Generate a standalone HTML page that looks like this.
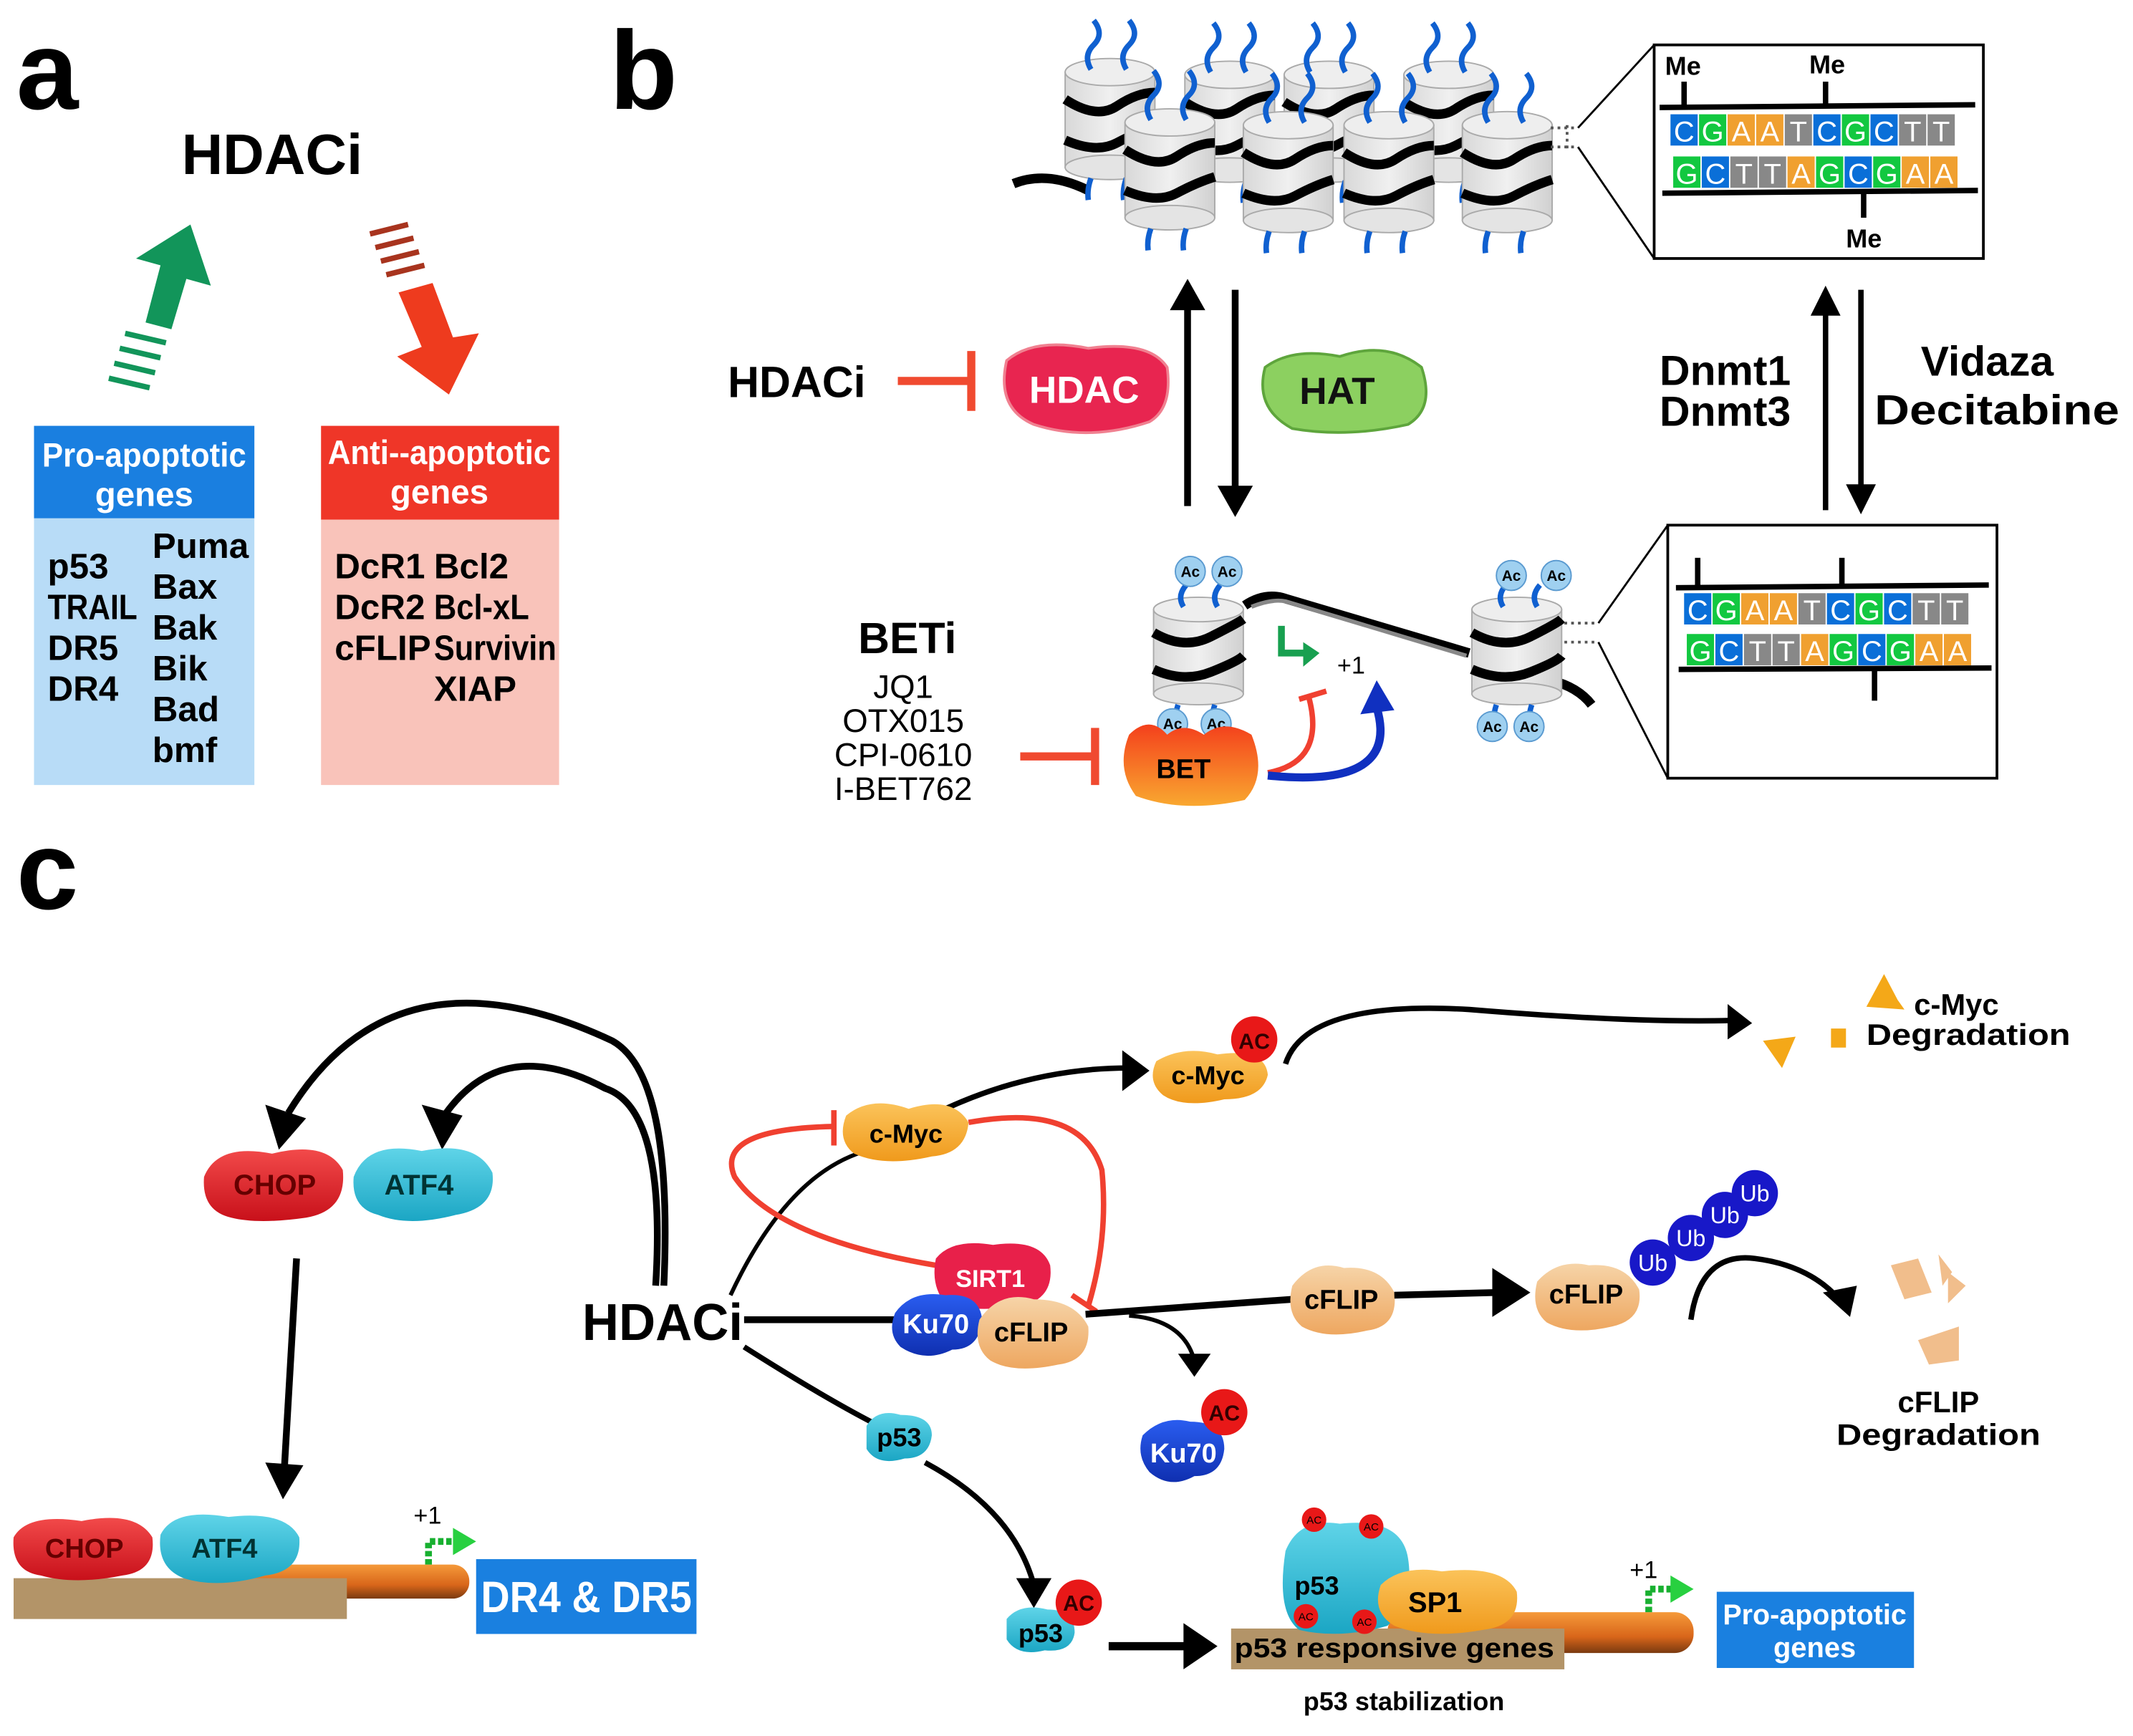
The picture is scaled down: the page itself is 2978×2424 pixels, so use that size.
<!DOCTYPE html>
<html><head><meta charset="utf-8"><style>
html,body{margin:0;padding:0;background:#fff}
svg{display:block}
text{font-family:"Liberation Sans",Arial,sans-serif}
</style></head><body>
<svg width="2978" height="2424" viewBox="0 0 1568 1276" preserveAspectRatio="none" xmlns="http://www.w3.org/2000/svg">
<defs>
<marker id="ah" viewBox="0 0 10 10" refX="8" refY="5" markerWidth="5" markerHeight="5" orient="auto"><path d="M0,0 L10,5 L0,10 Z" fill="#000"/></marker>
<linearGradient id="gRed" x1="0" y1="0" x2="0" y2="1"><stop offset="0" stop-color="#f24a4a"/><stop offset="1" stop-color="#c8101a"/></linearGradient>
<linearGradient id="gCyan" x1="0" y1="0" x2="0" y2="1"><stop offset="0" stop-color="#5fd4e8"/><stop offset="1" stop-color="#1ba6c4"/></linearGradient>
<linearGradient id="gOr" x1="0" y1="0" x2="0" y2="1"><stop offset="0" stop-color="#fbc35a"/><stop offset="1" stop-color="#f09a1c"/></linearGradient>
<linearGradient id="gPeach" x1="0" y1="0" x2="0" y2="1"><stop offset="0" stop-color="#f6d4a8"/><stop offset="1" stop-color="#eea760"/></linearGradient>
<linearGradient id="gBlue" x1="0" y1="0" x2="0" y2="1"><stop offset="0" stop-color="#2a5df0"/><stop offset="1" stop-color="#0f2fb0"/></linearGradient>
<linearGradient id="gBET" x1="0" y1="0" x2="0" y2="1"><stop offset="0" stop-color="#f4401c"/><stop offset="1" stop-color="#f9a830"/></linearGradient>
<linearGradient id="gBar" x1="0" y1="0" x2="0" y2="1"><stop offset="0" stop-color="#f59a3a"/><stop offset="0.6" stop-color="#d9661a"/><stop offset="1" stop-color="#7a3a10"/></linearGradient>
<linearGradient id="gCyl" x1="0" y1="0" x2="1" y2="0"><stop offset="0" stop-color="#d8d8d8"/><stop offset="0.5" stop-color="#f0f0f0"/><stop offset="1" stop-color="#d0d0d0"/></linearGradient>
<g id="nuc">
  <rect x="-33" y="0" width="66" height="70" fill="url(#gCyl)" stroke="#aaa" stroke-width="1"/>
  <ellipse cx="0" cy="70" rx="33" ry="9" fill="#e4e4e4" stroke="#aaa"/>
  <ellipse cx="0" cy="0" rx="33" ry="10" fill="#eee" stroke="#aaa"/>
  <path d="M-33,20 Q-10,35 5,25 T33,15" stroke="#000" stroke-width="7" fill="none"/>
  <path d="M-33,50 Q-10,60 5,52 T33,40" stroke="#000" stroke-width="7" fill="none"/>
  <path d="M-14,-2 q-6,-10 2,-18 t0,-18" stroke="#1060d0" stroke-width="4" fill="none"/>
  <path d="M12,-2 q-6,-10 2,-18 t0,-18" stroke="#1060d0" stroke-width="4" fill="none"/>
  <path d="M-14,78 q-3,8 -2,16" stroke="#1060d0" stroke-width="4" fill="none"/>
  <path d="M12,78 q-3,8 -2,16" stroke="#1060d0" stroke-width="4" fill="none"/>
</g>
</defs>

<!-- Panel a -->
<text x="12" y="80" font-size="82" font-weight="bold">a</text>
<text x="200" y="128" font-size="42" font-weight="bold" text-anchor="middle">HDACi</text>
<!-- green arrow -->
<polygon points="107,237 118,195 100,190 140,165 155,210 137,205 126,242" fill="#12955a"/>
<g stroke="#12955a" stroke-width="4">
<line x1="92" y1="245" x2="122" y2="252"/><line x1="88" y1="256" x2="118" y2="263"/><line x1="84" y1="267" x2="114" y2="274"/><line x1="80" y1="278" x2="110" y2="285"/></g>
<!-- red arrow -->
<polygon points="293,215 310,255 292,262 330,290 352,245 333,248 318,208" fill="#ee3b1e"/>
<g stroke="#a8341e" stroke-width="4">
<line x1="272" y1="172" x2="300" y2="165"/><line x1="276" y1="182" x2="304" y2="175"/><line x1="280" y1="192" x2="308" y2="185"/><line x1="284" y1="202" x2="312" y2="195"/></g>
<rect x="25" y="313" width="162" height="68" fill="#1a7fe0"/>
<rect x="25" y="381" width="162" height="196" fill="#b8dcf7"/>
<text x="106" y="343" font-size="25" font-weight="bold" fill="#fff" text-anchor="middle" textLength="150" lengthAdjust="spacingAndGlyphs">Pro-apoptotic</text>
<text x="106" y="372" font-size="25" font-weight="bold" fill="#fff" text-anchor="middle">genes</text>
<g font-size="26" font-weight="bold">
<text x="35" y="425">p53</text><text x="35" y="455" textLength="66" lengthAdjust="spacingAndGlyphs">TRAIL</text><text x="35" y="485">DR5</text><text x="35" y="515">DR4</text>
<text x="112" y="410">Puma</text><text x="112" y="440">Bax</text><text x="112" y="470">Bak</text><text x="112" y="500">Bik</text><text x="112" y="530">Bad</text><text x="112" y="560">bmf</text></g>
<rect x="236" y="313" width="175" height="69" fill="#ef3628"/>
<rect x="236" y="382" width="175" height="195" fill="#f9c3ba"/>
<text x="323" y="341" font-size="25" font-weight="bold" fill="#fff" text-anchor="middle" textLength="164" lengthAdjust="spacingAndGlyphs">Anti--apoptotic</text>
<text x="323" y="370" font-size="25" font-weight="bold" fill="#fff" text-anchor="middle">genes</text>
<g font-size="26" font-weight="bold">
<text x="246" y="425">DcR1</text><text x="246" y="455">DcR2</text><text x="246" y="485">cFLIP</text>
<text x="319" y="425">Bcl2</text><text x="319" y="455" textLength="70" lengthAdjust="spacingAndGlyphs">Bcl-xL</text><text x="319" y="485" textLength="90" lengthAdjust="spacingAndGlyphs">Survivin</text><text x="319" y="515">XIAP</text></g>

<!-- Panel b -->
<text x="448" y="80" font-size="82" font-weight="bold">b</text>
<path d="M745,135 Q770,125 800,140" stroke="#000" stroke-width="7" fill="none"/>
<use href="#nuc" x="816" y="53"/>
<use href="#nuc" x="904" y="55"/>
<use href="#nuc" x="977" y="55"/>
<use href="#nuc" x="1065" y="55"/>
<use href="#nuc" x="860" y="90"/>
<use href="#nuc" x="947" y="92"/>
<use href="#nuc" x="1021" y="92"/>
<use href="#nuc" x="1108" y="92"/>
<g stroke="#555" stroke-width="2" stroke-dasharray="2,3"><line x1="1140" y1="94" x2="1160" y2="94"/><line x1="1140" y1="108" x2="1160" y2="108"/><line x1="1152" y1="92" x2="1152" y2="110"/></g>
<line x1="1160" y1="94" x2="1216" y2="33" stroke="#000" stroke-width="1.5"/>
<line x1="1160" y1="108" x2="1216" y2="190" stroke="#000" stroke-width="1.5"/>
<rect x="1216" y="33" width="242" height="157" fill="#fff" stroke="#000" stroke-width="2"/>
<g font-weight="bold" font-size="19"><text x="1224" y="55">Me</text><text x="1330" y="54">Me</text><text x="1357" y="182">Me</text></g>
<g stroke="#000" stroke-width="4"><line x1="1220" y1="79" x2="1452" y2="77"/><line x1="1222" y1="142" x2="1454" y2="140"/>
<line x1="1238" y1="60" x2="1238" y2="79"/><line x1="1342" y1="60" x2="1342" y2="78"/><line x1="1370" y1="142" x2="1370" y2="160"/></g>
<g font-size="21" fill="#fff" text-anchor="middle">
<rect x="1228" y="84" width="20" height="23" fill="#0a6fd8"/><text x="1238" y="104">C</text>
<rect x="1249" y="84" width="20" height="23" fill="#12c840"/><text x="1259" y="104">G</text>
<rect x="1270" y="84" width="20" height="23" fill="#f0a030"/><text x="1280" y="104">A</text>
<rect x="1291" y="84" width="20" height="23" fill="#f0a030"/><text x="1301" y="104">A</text>
<rect x="1312" y="84" width="20" height="23" fill="#888"/><text x="1322" y="104">T</text>
<rect x="1333" y="84" width="20" height="23" fill="#0a6fd8"/><text x="1343" y="104">C</text>
<rect x="1354" y="84" width="20" height="23" fill="#12c840"/><text x="1364" y="104">G</text>
<rect x="1375" y="84" width="20" height="23" fill="#0a6fd8"/><text x="1385" y="104">C</text>
<rect x="1396" y="84" width="20" height="23" fill="#888"/><text x="1406" y="104">T</text>
<rect x="1417" y="84" width="20" height="23" fill="#888"/><text x="1427" y="104">T</text>
<rect x="1230" y="115" width="20" height="23" fill="#12c840"/><text x="1240" y="135">G</text>
<rect x="1251" y="115" width="20" height="23" fill="#0a6fd8"/><text x="1261" y="135">C</text>
<rect x="1272" y="115" width="20" height="23" fill="#888"/><text x="1282" y="135">T</text>
<rect x="1293" y="115" width="20" height="23" fill="#888"/><text x="1303" y="135">T</text>
<rect x="1314" y="115" width="20" height="23" fill="#f0a030"/><text x="1324" y="135">A</text>
<rect x="1335" y="115" width="20" height="23" fill="#12c840"/><text x="1345" y="135">G</text>
<rect x="1356" y="115" width="20" height="23" fill="#0a6fd8"/><text x="1366" y="135">C</text>
<rect x="1377" y="115" width="20" height="23" fill="#12c840"/><text x="1387" y="135">G</text>
<rect x="1398" y="115" width="20" height="23" fill="#f0a030"/><text x="1408" y="135">A</text>
<rect x="1419" y="115" width="20" height="23" fill="#f0a030"/><text x="1429" y="135">A</text>
</g>
<!-- middle arrows -->
<line x1="873" y1="372" x2="873" y2="225" stroke="#000" stroke-width="5"/><polygon points="860,228 886,228 873,205" fill="#000"/>
<line x1="908" y1="213" x2="908" y2="360" stroke="#000" stroke-width="5"/><polygon points="895,357 921,357 908,380" fill="#000"/>
<text x="535" y="292" font-size="32" font-weight="bold">HDACi</text>
<line x1="660" y1="280" x2="713" y2="280" stroke="#f04a30" stroke-width="6"/><line x1="714" y1="258" x2="714" y2="302" stroke="#f04a30" stroke-width="6"/>
<path d="M740,265 Q760,248 800,256 Q845,250 858,270 Q862,300 845,310 Q800,325 760,312 Q732,300 740,265Z" fill="#e82550" stroke="#f08090" stroke-width="2"/>
<text x="797" y="296" font-size="28" font-weight="bold" fill="#fff" text-anchor="middle">HDAC</text>
<path d="M930,270 Q950,255 985,262 Q1020,250 1045,270 Q1055,300 1035,312 Q990,322 950,315 Q922,300 930,270Z" fill="#8cd060" stroke="#5ea53c" stroke-width="2"/>
<text x="983" y="297" font-size="28" font-weight="bold" fill="#111" text-anchor="middle">HAT</text>
<g font-weight="bold" font-size="31"><text x="1220" y="283">Dnmt1</text><text x="1220" y="313">Dnmt3</text>
<text x="1412" y="276">Vidaza</text><text x="1378" y="312" textLength="180" lengthAdjust="spacingAndGlyphs">Decitabine</text></g>
<line x1="1342" y1="375" x2="1342" y2="228" stroke="#000" stroke-width="4"/><polygon points="1331,232 1353,232 1342,210" fill="#000"/>
<line x1="1368" y1="213" x2="1368" y2="360" stroke="#000" stroke-width="4"/><polygon points="1357,356 1379,356 1368,378" fill="#000"/>
<!-- bottom nucleosomes -->
<path d="M915,445 Q930,435 945,440 L1080,480" stroke="#000" stroke-width="7" fill="none"/>
<path d="M920,446 Q935,440 945,442 L1078,482" stroke="#888" stroke-width="3" fill="none"/>
<path d="M1140,500 Q1160,505 1170,518" stroke="#000" stroke-width="7" fill="none"/>
<g>
<rect x="848" y="448" width="66" height="62" fill="url(#gCyl)" stroke="#aaa"/><ellipse cx="881" cy="510" rx="33" ry="8" fill="#e4e4e4" stroke="#aaa"/><ellipse cx="881" cy="448" rx="33" ry="9" fill="#eee" stroke="#aaa"/>
<path d="M848,465 Q870,478 890,468 T914,455" stroke="#000" stroke-width="7" fill="none"/><path d="M848,492 Q870,502 890,494 T914,482" stroke="#000" stroke-width="7" fill="none"/>
<rect x="1082" y="448" width="66" height="62" fill="url(#gCyl)" stroke="#aaa"/><ellipse cx="1115" cy="510" rx="33" ry="8" fill="#e4e4e4" stroke="#aaa"/><ellipse cx="1115" cy="448" rx="33" ry="9" fill="#eee" stroke="#aaa"/>
<path d="M1082,465 Q1105,478 1125,468 T1148,455" stroke="#000" stroke-width="7" fill="none"/><path d="M1082,492 Q1105,502 1125,494 T1148,482" stroke="#000" stroke-width="7" fill="none"/>
</g>
<g stroke="#1060d0" stroke-width="4" fill="none">
<path d="M870,446 q-5,-8 2,-16"/><path d="M895,446 q-5,-8 2,-16"/><path d="M1105,446 q-5,-8 2,-16"/><path d="M1130,446 q-5,-8 2,-16"/>
<path d="M866,518 q-2,6 -2,12"/><path d="M893,518 q-2,6 -2,12"/><path d="M1100,518 q-2,6 -2,12"/><path d="M1126,518 q-2,6 -2,12"/></g>
<g fill="#9fd0f0" stroke="#5a9ad0"><circle cx="875" cy="420" r="11"/><circle cx="902" cy="420" r="11"/><circle cx="1111" cy="423" r="11"/><circle cx="1144" cy="423" r="11"/>
<circle cx="862" cy="532" r="11"/><circle cx="894" cy="532" r="11"/><circle cx="1097" cy="534" r="11"/><circle cx="1124" cy="534" r="11"/></g>
<g font-size="11" font-weight="bold" text-anchor="middle"><text x="875" y="424">Ac</text><text x="902" y="424">Ac</text><text x="1111" y="427">Ac</text><text x="1144" y="427">Ac</text><text x="862" y="536">Ac</text><text x="894" y="536">Ac</text><text x="1097" y="538">Ac</text><text x="1124" y="538">Ac</text></g>
<g stroke="#555" stroke-width="2" stroke-dasharray="2,3"><line x1="1150" y1="458" x2="1175" y2="458"/><line x1="1150" y1="472" x2="1175" y2="472"/></g>
<line x1="1175" y1="458" x2="1226" y2="386" stroke="#000" stroke-width="1.5"/><line x1="1175" y1="472" x2="1226" y2="572" stroke="#000" stroke-width="1.5"/>
<rect x="1226" y="386" width="242" height="186" fill="#fff" stroke="#000" stroke-width="2"/>
<g stroke="#000" stroke-width="4"><line x1="1232" y1="432" x2="1462" y2="430"/><line x1="1234" y1="492" x2="1464" y2="491"/>
<line x1="1248" y1="410" x2="1248" y2="432"/><line x1="1354" y1="410" x2="1354" y2="431"/><line x1="1378" y1="492" x2="1378" y2="515"/></g>
<g font-size="21" fill="#fff" text-anchor="middle">
<rect x="1238" y="436" width="20" height="23" fill="#0a6fd8"/><text x="1248" y="456">C</text>
<rect x="1259" y="436" width="20" height="23" fill="#12c840"/><text x="1269" y="456">G</text>
<rect x="1280" y="436" width="20" height="23" fill="#f0a030"/><text x="1290" y="456">A</text>
<rect x="1301" y="436" width="20" height="23" fill="#f0a030"/><text x="1311" y="456">A</text>
<rect x="1322" y="436" width="20" height="23" fill="#888"/><text x="1332" y="456">T</text>
<rect x="1343" y="436" width="20" height="23" fill="#0a6fd8"/><text x="1353" y="456">C</text>
<rect x="1364" y="436" width="20" height="23" fill="#12c840"/><text x="1374" y="456">G</text>
<rect x="1385" y="436" width="20" height="23" fill="#0a6fd8"/><text x="1395" y="456">C</text>
<rect x="1406" y="436" width="20" height="23" fill="#888"/><text x="1416" y="456">T</text>
<rect x="1427" y="436" width="20" height="23" fill="#888"/><text x="1437" y="456">T</text>
<rect x="1240" y="466" width="20" height="23" fill="#12c840"/><text x="1250" y="486">G</text>
<rect x="1261" y="466" width="20" height="23" fill="#0a6fd8"/><text x="1271" y="486">C</text>
<rect x="1282" y="466" width="20" height="23" fill="#888"/><text x="1292" y="486">T</text>
<rect x="1303" y="466" width="20" height="23" fill="#888"/><text x="1313" y="486">T</text>
<rect x="1324" y="466" width="20" height="23" fill="#f0a030"/><text x="1334" y="486">A</text>
<rect x="1345" y="466" width="20" height="23" fill="#12c840"/><text x="1355" y="486">G</text>
<rect x="1366" y="466" width="20" height="23" fill="#0a6fd8"/><text x="1376" y="486">C</text>
<rect x="1387" y="466" width="20" height="23" fill="#12c840"/><text x="1397" y="486">G</text>
<rect x="1408" y="466" width="20" height="23" fill="#f0a030"/><text x="1418" y="486">A</text>
<rect x="1429" y="466" width="20" height="23" fill="#f0a030"/><text x="1439" y="486">A</text>
</g>
<text x="667" y="480" font-size="32" font-weight="bold" text-anchor="middle">BETi</text>
<g font-size="24" text-anchor="middle"><text x="664" y="513">JQ1</text><text x="664" y="538">OTX015</text><text x="664" y="563">CPI-0610</text><text x="664" y="588">I-BET762</text></g>
<line x1="750" y1="556" x2="803" y2="556" stroke="#f04a30" stroke-width="6"/><line x1="805" y1="535" x2="805" y2="577" stroke="#f04a30" stroke-width="6"/>
<path d="M830,540 Q845,525 858,540 Q870,530 885,540 Q900,528 920,540 Q932,570 915,588 Q870,598 835,585 Q820,565 830,540Z" fill="url(#gBET)"/>
<text x="870" y="572" font-size="20" font-weight="bold" text-anchor="middle">BET</text>
<path d="M942,460 L942,480 L960,480" stroke="#18a050" stroke-width="5" fill="none"/><polygon points="958,472 970,480 958,490" fill="#18a050"/>
<text x="983" y="495" font-size="18">+1</text>
<path d="M932,568 Q975,560 962,512" stroke="#f04030" stroke-width="4" fill="none"/><path d="M955,514 L975,508" stroke="#f04030" stroke-width="4"/>
<path d="M932,570 Q1030,580 1012,520" stroke="#1030c0" stroke-width="6" fill="none"/><polygon points="1000,525 1025,522 1012,500" fill="#1030c0"/>

<!-- Panel c -->
<text x="12" y="668" font-size="82" font-weight="bold">c</text>
<!-- arrows from HDACi to CHOP/ATF4 -->
<path d="M488,945 Q495,790 450,765 Q290,690 212,818" stroke="#000" stroke-width="5" fill="none"/><polygon points="195,812 225,822 205,845" fill="#000"/>
<path d="M482,945 Q490,815 445,800 Q370,760 328,818" stroke="#000" stroke-width="5" fill="none"/><polygon points="310,812 340,820 325,845" fill="#000"/>
<path d="M150,865 Q160,840 200,848 Q240,838 252,860 Q255,890 225,895 Q190,900 170,895 Q148,890 150,865Z" fill="url(#gRed)"/>
<text x="202" y="878" font-size="21" font-weight="bold" fill="#600" text-anchor="middle">CHOP</text>
<path d="M260,865 Q270,838 310,846 Q350,838 362,862 Q365,888 335,893 Q300,902 278,893 Q258,888 260,865Z" fill="url(#gCyan)"/>
<text x="308" y="878" font-size="21" font-weight="bold" fill="#033" text-anchor="middle">ATF4</text>
<line x1="218" y1="925" x2="209" y2="1080" stroke="#000" stroke-width="5"/><polygon points="195,1075 223,1077 208,1102" fill="#000"/>
<!-- bottom-left gene -->
<rect x="170" y="1150" width="175" height="25" rx="12" fill="url(#gBar)"/>
<rect x="10" y="1160" width="245" height="30" fill="#b39468"/>
<path d="M10,1130 Q20,1112 60,1118 Q100,1110 112,1130 Q115,1155 90,1158 Q55,1165 30,1158 Q8,1155 10,1130Z" fill="url(#gRed)"/>
<text x="62" y="1145" font-size="20" font-weight="bold" fill="#600" text-anchor="middle">CHOP</text>
<path d="M118,1128 Q128,1108 168,1115 Q210,1110 220,1130 Q222,1155 195,1158 Q160,1168 135,1160 Q115,1152 118,1128Z" fill="url(#gCyan)"/>
<text x="165" y="1145" font-size="20" font-weight="bold" fill="#033" text-anchor="middle">ATF4</text>
<text x="304" y="1120" font-size="18">+1</text>
<path d="M315,1150 L315,1133 L335,1133" stroke="#18b030" stroke-width="5" stroke-dasharray="4,2" fill="none"/><polygon points="333,1123 350,1133 333,1143" fill="#28d040"/>
<rect x="350" y="1146" width="162" height="55" fill="#1a80e0"/>
<text x="431" y="1185" font-size="32" font-weight="bold" fill="#fff" text-anchor="middle" textLength="155" lengthAdjust="spacingAndGlyphs">DR4 &amp; DR5</text>
<!-- HDACi -->
<text x="428" y="985" font-size="38" font-weight="bold" textLength="118" lengthAdjust="spacingAndGlyphs">HDACi</text>
<line x1="547" y1="970" x2="660" y2="970" stroke="#000" stroke-width="5"/>
<path d="M537,952 Q580,860 640,845" stroke="#000" stroke-width="3" fill="none"/>
<path d="M695,815 Q760,785 830,785" stroke="#000" stroke-width="4" fill="none"/><polygon points="825,772 845,787 825,802" fill="#000"/>
<path d="M547,990 Q610,1030 650,1050" stroke="#000" stroke-width="4" fill="none"/>
<!-- red loops -->
<path d="M688,930 Q570,910 540,865 Q525,830 612,828" stroke="#f04030" stroke-width="4" fill="none"/><line x1="613" y1="816" x2="613" y2="842" stroke="#f04030" stroke-width="4"/>
<path d="M712,825 Q795,810 810,860 Q815,910 800,960" stroke="#f04030" stroke-width="4" fill="none"/><line x1="788" y1="952" x2="806" y2="964" stroke="#f04030" stroke-width="4"/>
<!-- c-Myc -->
<path d="M622,820 Q640,805 668,815 Q700,805 712,825 Q710,848 685,850 Q650,858 628,848 Q615,838 622,820Z" fill="url(#gOr)"/>
<text x="666" y="840" font-size="19" font-weight="bold" text-anchor="middle">c-Myc</text>
<path d="M850,780 Q870,768 895,775 Q930,770 932,790 Q928,808 900,808 Q870,815 855,805 Q843,795 850,780Z" fill="url(#gOr)"/>
<text x="888" y="797" font-size="19" font-weight="bold" text-anchor="middle">c-Myc</text>
<circle cx="922" cy="764" r="17" fill="#e81818"/><text x="922" y="771" font-size="16" font-weight="bold" text-anchor="middle" fill="#300">AC</text>
<path d="M945,782 Q960,735 1080,742 Q1200,752 1275,750" stroke="#000" stroke-width="4" fill="none"/><polygon points="1270,738 1288,752 1270,764" fill="#000"/>
<polygon points="1372,740 1385,716 1395,735 1400,742" fill="#f4a818"/>
<polygon points="1296,765 1320,762 1310,785" fill="#f4a818"/>
<rect x="1346" y="756" width="11" height="14" fill="#f4a818"/>
<text x="1372" y="746" font-size="22" font-weight="bold" x-="" ><tspan x="1407">c-Myc</tspan></text>
<text x="1372" y="768" font-size="22" font-weight="bold" textLength="150" lengthAdjust="spacingAndGlyphs">Degradation</text>
<!-- SIRT1/Ku70/cFLIP -->
<path d="M688,925 Q700,910 730,915 Q765,910 772,930 Q775,955 750,960 Q715,965 695,958 Q684,945 688,925Z" fill="#e8204a"/>
<text x="728" y="946" font-size="18" font-weight="bold" fill="#fff" text-anchor="middle">SIRT1</text>
<path d="M658,965 Q670,948 695,952 Q720,950 722,970 Q720,992 700,992 Q680,1002 662,990 Q652,980 658,965Z" fill="url(#gBlue)"/>
<text x="688" y="980" font-size="20" font-weight="bold" fill="#fff" text-anchor="middle">Ku70</text>
<path d="M720,970 Q735,948 760,955 Q790,955 800,975 Q802,1000 778,1003 Q745,1010 728,1000 Q715,990 720,970Z" fill="url(#gPeach)"/>
<text x="758" y="986" font-size="20" font-weight="bold" text-anchor="middle">cFLIP</text>
<line x1="798" y1="966" x2="950" y2="955" stroke="#000" stroke-width="5"/>
<path d="M830,967 Q870,970 878,1000" stroke="#000" stroke-width="3" fill="none"/><polygon points="866,995 890,995 878,1012" fill="#000"/>
<path d="M950,945 Q965,925 988,932 Q1015,930 1025,950 Q1028,975 1005,978 Q975,985 957,975 Q945,965 950,945Z" fill="url(#gPeach)"/>
<text x="986" y="962" font-size="20" font-weight="bold" text-anchor="middle">cFLIP</text>
<line x1="1025" y1="952" x2="1100" y2="950" stroke="#000" stroke-width="5"/><polygon points="1097,932 1125,950 1097,968" fill="#000"/>
<path d="M1130,942 Q1145,925 1168,930 Q1195,928 1205,948 Q1208,970 1185,975 Q1155,982 1137,972 Q1125,962 1130,942Z" fill="url(#gPeach)"/>
<text x="1166" y="958" font-size="20" font-weight="bold" text-anchor="middle">cFLIP</text>
<g fill="#1818c8"><circle cx="1290" cy="877" r="17"/><circle cx="1268" cy="893" r="17"/><circle cx="1243" cy="910" r="17"/><circle cx="1215" cy="928" r="17"/></g>
<g font-size="17" fill="#fff" text-anchor="middle"><text x="1290" y="883">Ub</text><text x="1268" y="899">Ub</text><text x="1243" y="916">Ub</text><text x="1215" y="934">Ub</text></g>
<path d="M1243,970 Q1250,920 1290,925 Q1330,930 1352,955" stroke="#000" stroke-width="4" fill="none"/><polygon points="1340,950 1365,945 1360,968" fill="#000"/>
<g fill="#f1be8c"><polygon points="1390,930 1410,925 1420,950 1400,955"/><polygon points="1425,922 1435,935 1428,945"/><polygon points="1432,935 1445,945 1432,958"/><polygon points="1410,985 1440,975 1440,1000 1418,1003"/></g>
<text x="1425" y="1038" font-size="22" font-weight="bold" text-anchor="middle">cFLIP</text>
<text x="1425" y="1062" font-size="22" font-weight="bold" text-anchor="middle" textLength="150" lengthAdjust="spacingAndGlyphs">Degradation</text>
<path d="M840,1055 Q855,1040 875,1045 Q900,1045 900,1065 Q898,1085 878,1085 Q860,1095 845,1082 Q835,1070 840,1055Z" fill="url(#gBlue)"/>
<text x="870" y="1075" font-size="20" font-weight="bold" fill="#fff" text-anchor="middle">Ku70</text>
<circle cx="900" cy="1038" r="17" fill="#e81818"/><text x="900" y="1044" font-size="16" font-weight="bold" text-anchor="middle" fill="#300">AC</text>
<!-- p53 -->
<path d="M637,1048 Q645,1035 662,1040 Q685,1040 685,1055 Q683,1072 665,1072 Q645,1078 637,1065Z" fill="url(#gCyan)"/>
<text x="661" y="1063" font-size="19" font-weight="bold" text-anchor="middle">p53</text>
<path d="M680,1075 Q745,1110 760,1165" stroke="#000" stroke-width="4" fill="none"/><polygon points="747,1160 773,1160 760,1182" fill="#000"/>
<path d="M740,1190 Q750,1178 770,1183 Q790,1183 790,1200 Q788,1215 768,1213 Q748,1218 740,1205Z" fill="url(#gCyan)"/>
<text x="765" y="1207" font-size="19" font-weight="bold" text-anchor="middle">p53</text>
<circle cx="793" cy="1178" r="17" fill="#e81818"/><text x="793" y="1184" font-size="16" font-weight="bold" text-anchor="middle" fill="#300">AC</text>
<line x1="815" y1="1210" x2="872" y2="1210" stroke="#000" stroke-width="6"/><polygon points="870,1193 895,1210 870,1227" fill="#000"/>
<rect x="1020" y="1185" width="225" height="30" rx="14" fill="url(#gBar)"/>
<rect x="905" y="1197" width="245" height="30" fill="#b39468"/>
<text x="1025" y="1218" font-size="20" font-weight="bold" text-anchor="middle" textLength="235" lengthAdjust="spacingAndGlyphs">p53 responsive genes</text>
<path d="M945,1140 Q955,1115 985,1120 Q1030,1115 1035,1145 Q1040,1175 1020,1195 Q985,1205 955,1198 Q938,1185 945,1140Z" fill="url(#gCyan)"/>
<text x="968" y="1172" font-size="19" font-weight="bold" text-anchor="middle">p53</text>
<path d="M1015,1165 Q1030,1150 1060,1155 Q1105,1150 1115,1170 Q1118,1195 1090,1198 Q1050,1205 1025,1195 Q1008,1185 1015,1165Z" fill="url(#gOr)"/>
<text x="1055" y="1185" font-size="21" font-weight="bold" text-anchor="middle">SP1</text>
<g fill="#e81818"><circle cx="966" cy="1117" r="9"/><circle cx="1008" cy="1122" r="9"/><circle cx="960" cy="1188" r="9"/><circle cx="1003" cy="1192" r="9"/></g>
<g font-size="8" text-anchor="middle"><text x="966" y="1120">AC</text><text x="1008" y="1125">AC</text><text x="960" y="1191">AC</text><text x="1003" y="1195">AC</text></g>
<text x="1198" y="1160" font-size="18">+1</text>
<path d="M1212,1185 L1212,1168 L1230,1168" stroke="#18b030" stroke-width="5" stroke-dasharray="4,2" fill="none"/><polygon points="1228,1158 1245,1168 1228,1178" fill="#28d040"/>
<rect x="1262" y="1170" width="145" height="56" fill="#1a80e0"/>
<text x="1334" y="1194" font-size="21" font-weight="bold" fill="#fff" text-anchor="middle" textLength="135" lengthAdjust="spacingAndGlyphs">Pro-apoptotic</text>
<text x="1334" y="1218" font-size="21" font-weight="bold" fill="#fff" text-anchor="middle">genes</text>
<text x="1032" y="1257" font-size="19" font-weight="bold" text-anchor="middle">p53 stabilization</text>
</svg>
</body></html>
